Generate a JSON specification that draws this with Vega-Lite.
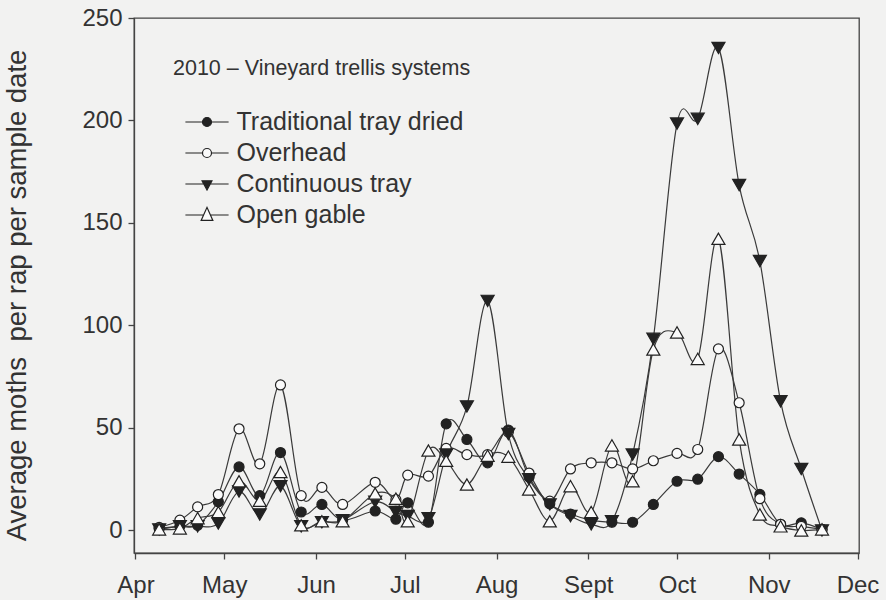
{
  "$schema": "https://vega.github.io/schema/vega-lite/v6.json",
  "width": 725,
  "height": 535,
  "autosize": {"type": "none"},
  "padding": {"left": 134, "top": 18, "right": 27, "bottom": 47},
  "background": "#f2f2f1",
  "config": {
    "font": "Liberation Sans",
    "view": {"stroke": "#444444", "strokeWidth": 1.3, "fill": "#f2f2f1"},
    "axis": {
      "domainColor": "#444444", "tickColor": "#444444", "labelColor": "#333333", "titleColor": "#333333",
      "grid": false, "labelFont": "Liberation Sans", "titleFont": "Liberation Sans",
      "labelFontSize": 24, "titleFontSize": 27.5, "titleFontWeight": "normal",
      "domainWidth": 1.3, "tickWidth": 1.3, "tickSize": 6
    }
  },
  "data": {"values": [
    {"date": "2010/04/09", "series": "Traditional tray dried", "value": 1},
    {"date": "2010/04/16", "series": "Traditional tray dried", "value": 2},
    {"date": "2010/04/22", "series": "Traditional tray dried", "value": 2.5},
    {"date": "2010/04/29", "series": "Traditional tray dried", "value": 14},
    {"date": "2010/05/06", "series": "Traditional tray dried", "value": 31},
    {"date": "2010/05/13", "series": "Traditional tray dried", "value": 17},
    {"date": "2010/05/20", "series": "Traditional tray dried", "value": 38},
    {"date": "2010/05/27", "series": "Traditional tray dried", "value": 9},
    {"date": "2010/06/03", "series": "Traditional tray dried", "value": 12.7},
    {"date": "2010/06/10", "series": "Traditional tray dried", "value": 5},
    {"date": "2010/06/21", "series": "Traditional tray dried", "value": 9.5},
    {"date": "2010/06/28", "series": "Traditional tray dried", "value": 5.5},
    {"date": "2010/07/02", "series": "Traditional tray dried", "value": 13.5},
    {"date": "2010/07/09", "series": "Traditional tray dried", "value": 4},
    {"date": "2010/07/15", "series": "Traditional tray dried", "value": 52},
    {"date": "2010/07/22", "series": "Traditional tray dried", "value": 44.4},
    {"date": "2010/07/29", "series": "Traditional tray dried", "value": 33},
    {"date": "2010/08/05", "series": "Traditional tray dried", "value": 49},
    {"date": "2010/08/12", "series": "Traditional tray dried", "value": 26},
    {"date": "2010/08/19", "series": "Traditional tray dried", "value": 13},
    {"date": "2010/08/26", "series": "Traditional tray dried", "value": 8},
    {"date": "2010/09/02", "series": "Traditional tray dried", "value": 5},
    {"date": "2010/09/09", "series": "Traditional tray dried", "value": 4},
    {"date": "2010/09/16", "series": "Traditional tray dried", "value": 4},
    {"date": "2010/09/23", "series": "Traditional tray dried", "value": 12.7},
    {"date": "2010/10/01", "series": "Traditional tray dried", "value": 24},
    {"date": "2010/10/08", "series": "Traditional tray dried", "value": 25},
    {"date": "2010/10/15", "series": "Traditional tray dried", "value": 36},
    {"date": "2010/10/22", "series": "Traditional tray dried", "value": 27.5},
    {"date": "2010/10/29", "series": "Traditional tray dried", "value": 17.6},
    {"date": "2010/11/05", "series": "Traditional tray dried", "value": 3},
    {"date": "2010/11/12", "series": "Traditional tray dried", "value": 3.7},
    {"date": "2010/11/19", "series": "Traditional tray dried", "value": 0.5},

    {"date": "2010/04/09", "series": "Overhead", "value": 1.5},
    {"date": "2010/04/16", "series": "Overhead", "value": 5},
    {"date": "2010/04/22", "series": "Overhead", "value": 11.5},
    {"date": "2010/04/29", "series": "Overhead", "value": 17.5},
    {"date": "2010/05/06", "series": "Overhead", "value": 49.6},
    {"date": "2010/05/13", "series": "Overhead", "value": 32.5},
    {"date": "2010/05/20", "series": "Overhead", "value": 71},
    {"date": "2010/05/27", "series": "Overhead", "value": 17},
    {"date": "2010/06/03", "series": "Overhead", "value": 21},
    {"date": "2010/06/10", "series": "Overhead", "value": 12.7},
    {"date": "2010/06/21", "series": "Overhead", "value": 23.5},
    {"date": "2010/06/28", "series": "Overhead", "value": 15},
    {"date": "2010/07/02", "series": "Overhead", "value": 27},
    {"date": "2010/07/09", "series": "Overhead", "value": 26.5},
    {"date": "2010/07/15", "series": "Overhead", "value": 40},
    {"date": "2010/07/22", "series": "Overhead", "value": 37},
    {"date": "2010/07/29", "series": "Overhead", "value": 37},
    {"date": "2010/08/05", "series": "Overhead", "value": 48},
    {"date": "2010/08/12", "series": "Overhead", "value": 28},
    {"date": "2010/08/19", "series": "Overhead", "value": 14.3},
    {"date": "2010/08/26", "series": "Overhead", "value": 30},
    {"date": "2010/09/02", "series": "Overhead", "value": 33},
    {"date": "2010/09/09", "series": "Overhead", "value": 33},
    {"date": "2010/09/16", "series": "Overhead", "value": 30},
    {"date": "2010/09/23", "series": "Overhead", "value": 34},
    {"date": "2010/10/01", "series": "Overhead", "value": 37.6},
    {"date": "2010/10/08", "series": "Overhead", "value": 39.5},
    {"date": "2010/10/15", "series": "Overhead", "value": 88.6},
    {"date": "2010/10/22", "series": "Overhead", "value": 62.3},
    {"date": "2010/10/29", "series": "Overhead", "value": 15.5},
    {"date": "2010/11/05", "series": "Overhead", "value": 3},
    {"date": "2010/11/12", "series": "Overhead", "value": 2},
    {"date": "2010/11/19", "series": "Overhead", "value": 0.5},

    {"date": "2010/04/09", "series": "Continuous tray", "value": 0.5},
    {"date": "2010/04/16", "series": "Continuous tray", "value": 2},
    {"date": "2010/04/22", "series": "Continuous tray", "value": 2},
    {"date": "2010/04/29", "series": "Continuous tray", "value": 3.4},
    {"date": "2010/05/06", "series": "Continuous tray", "value": 19},
    {"date": "2010/05/13", "series": "Continuous tray", "value": 7.8},
    {"date": "2010/05/20", "series": "Continuous tray", "value": 21.6},
    {"date": "2010/05/27", "series": "Continuous tray", "value": 2},
    {"date": "2010/06/03", "series": "Continuous tray", "value": 4},
    {"date": "2010/06/10", "series": "Continuous tray", "value": 5},
    {"date": "2010/06/21", "series": "Continuous tray", "value": 14},
    {"date": "2010/06/28", "series": "Continuous tray", "value": 9},
    {"date": "2010/07/02", "series": "Continuous tray", "value": 7},
    {"date": "2010/07/09", "series": "Continuous tray", "value": 6},
    {"date": "2010/07/15", "series": "Continuous tray", "value": 37},
    {"date": "2010/07/22", "series": "Continuous tray", "value": 60.5},
    {"date": "2010/07/29", "series": "Continuous tray", "value": 112},
    {"date": "2010/08/05", "series": "Continuous tray", "value": 47},
    {"date": "2010/08/12", "series": "Continuous tray", "value": 25},
    {"date": "2010/08/19", "series": "Continuous tray", "value": 12.7},
    {"date": "2010/08/26", "series": "Continuous tray", "value": 7},
    {"date": "2010/09/02", "series": "Continuous tray", "value": 3},
    {"date": "2010/09/09", "series": "Continuous tray", "value": 4.5},
    {"date": "2010/09/16", "series": "Continuous tray", "value": 37},
    {"date": "2010/09/23", "series": "Continuous tray", "value": 93.5},
    {"date": "2010/10/01", "series": "Continuous tray", "value": 198.5},
    {"date": "2010/10/08", "series": "Continuous tray", "value": 200.8},
    {"date": "2010/10/15", "series": "Continuous tray", "value": 235.4},
    {"date": "2010/10/22", "series": "Continuous tray", "value": 168.5},
    {"date": "2010/10/29", "series": "Continuous tray", "value": 131.4},
    {"date": "2010/11/05", "series": "Continuous tray", "value": 63},
    {"date": "2010/11/12", "series": "Continuous tray", "value": 30},
    {"date": "2010/11/19", "series": "Continuous tray", "value": 0},

    {"date": "2010/04/09", "series": "Open gable", "value": 0.5},
    {"date": "2010/04/16", "series": "Open gable", "value": 1},
    {"date": "2010/04/22", "series": "Open gable", "value": 6},
    {"date": "2010/04/29", "series": "Open gable", "value": 9},
    {"date": "2010/05/06", "series": "Open gable", "value": 24},
    {"date": "2010/05/13", "series": "Open gable", "value": 14.5},
    {"date": "2010/05/20", "series": "Open gable", "value": 28.5},
    {"date": "2010/05/27", "series": "Open gable", "value": 2.5},
    {"date": "2010/06/03", "series": "Open gable", "value": 4.5},
    {"date": "2010/06/10", "series": "Open gable", "value": 4.5},
    {"date": "2010/06/21", "series": "Open gable", "value": 18},
    {"date": "2010/06/28", "series": "Open gable", "value": 15.5},
    {"date": "2010/07/02", "series": "Open gable", "value": 4.5},
    {"date": "2010/07/09", "series": "Open gable", "value": 39},
    {"date": "2010/07/15", "series": "Open gable", "value": 34},
    {"date": "2010/07/22", "series": "Open gable", "value": 22.4},
    {"date": "2010/07/29", "series": "Open gable", "value": 36.5},
    {"date": "2010/08/05", "series": "Open gable", "value": 36},
    {"date": "2010/08/12", "series": "Open gable", "value": 20},
    {"date": "2010/08/19", "series": "Open gable", "value": 4.5},
    {"date": "2010/08/26", "series": "Open gable", "value": 21.6},
    {"date": "2010/09/02", "series": "Open gable", "value": 9},
    {"date": "2010/09/09", "series": "Open gable", "value": 41.5},
    {"date": "2010/09/16", "series": "Open gable", "value": 24},
    {"date": "2010/09/23", "series": "Open gable", "value": 88.3},
    {"date": "2010/10/01", "series": "Open gable", "value": 96.6},
    {"date": "2010/10/08", "series": "Open gable", "value": 83.7},
    {"date": "2010/10/15", "series": "Open gable", "value": 142.3},
    {"date": "2010/10/22", "series": "Open gable", "value": 44.4},
    {"date": "2010/10/29", "series": "Open gable", "value": 7.8},
    {"date": "2010/11/05", "series": "Open gable", "value": 2},
    {"date": "2010/11/12", "series": "Open gable", "value": 0},
    {"date": "2010/11/19", "series": "Open gable", "value": 0.5}
  ]},
  "encoding": {
    "x": {
      "field": "date", "type": "temporal",
      "scale": {"domain": [{"year": 2010, "month": 3, "date": 31, "hours": 12}, {"year": 2010, "month": 12, "date": 1, "hours": 12}]},
      "axis": {
        "title": null,
        "values": [
          {"year": 2010, "month": 4, "date": 1}, {"year": 2010, "month": 5, "date": 1}, {"year": 2010, "month": 6, "date": 1},
          {"year": 2010, "month": 7, "date": 1}, {"year": 2010, "month": 8, "date": 1}, {"year": 2010, "month": 9, "date": 1},
          {"year": 2010, "month": 10, "date": 1}, {"year": 2010, "month": 11, "date": 1}, {"year": 2010, "month": 12, "date": 1}
        ],
        "labelExpr": "['Jan','Feb','Mar','Apr','May','Jun','Jul','Aug','Sept','Oct','Nov','Dec'][month(datum.value)]",
        "labelPadding": 14,
        "labelFlush": false,
        "labelOverlap": false
      }
    },
    "y": {
      "field": "value", "type": "quantitative",
      "scale": {"domain": [-11, 250], "nice": false, "zero": false},
      "axis": {
        "title": "Average moths\u00a0 per rap per sample date",
        "values": [0, 50, 100, 150, 200, 250],
        "labelPadding": 6,
        "titlePadding": 50,
        "titleY": 277
      }
    }
  },
  "layer": [
    {
      "mark": {"type": "line", "interpolate": "cardinal", "color": "#3a3a3a", "strokeWidth": 1.2},
      "encoding": {"detail": {"field": "series"}}
    },
    {
      "mark": {"type": "point", "opacity": 1, "filled": false, "strokeWidth": 1.2},
      "encoding": {
        "color": {
          "field": "series",
          "scale": {"domain": ["Traditional tray dried", "Overhead", "Continuous tray", "Open gable"], "range": ["#222222", "#222222", "#222222", "#222222"]},
          "legend": {
            "orient": "none", "legendX": 39, "legendY": 40,
            "title": "2010 – Vineyard trellis systems",
            "titleFontSize": 21.5, "titleFontWeight": "normal", "titleColor": "#333333", "titleFont": "Liberation Sans",
            "titlePadding": 30, "titleLimit": 500,
            "labelFontSize": 25, "labelColor": "#333333", "labelFont": "Liberation Sans", "labelLimit": 500,
            "symbolSize": 81, "symbolOffset": 21.5, "labelOffset": 17, "rowPadding": 5, "padding": 0,
            "symbolStrokeWidth": 1.2,
            "encoding": {
              "symbols": {
                "shape": {"value": {"expr": "datum.value === 'Traditional tray dried' ? 'M-4.8,0H4.8M1,0A1,1,0,1,1,-1,0A1,1,0,1,1,1,0Z' : datum.value === 'Overhead' ? 'M-4.8,0H-1M1,0H4.8M1,0A1,1,0,1,1,-1,0A1,1,0,1,1,1,0Z' : datum.value === 'Continuous tray' ? 'M-4.8,0H4.8M-1.1,-0.7H1.1L0,1.35Z' : 'M-4.8,0H-0.76M0.76,0H4.8M-1.3,1.2H1.3L0,-1.7Z'"}},
                "fill": {"value": {"expr": "datum.value === 'Overhead' || datum.value === 'Open gable' ? '#fafafa' : '#222222'"}},
                "strokeWidth": {"value": 1.2},
                "opacity": {"value": 1}
              }
            }
          }
        },
        "shape": {
          "condition": [
            {"test": "datum.series === 'Continuous tray'", "value": "triangle-down"},
            {"test": "datum.series === 'Open gable'", "value": "triangle-up"}
          ],
          "value": "circle"
        },
        "fill": {
          "condition": {"test": "datum.series === 'Overhead' || datum.series === 'Open gable'", "value": "#fafafa"},
          "value": "#222222"
        },
        "size": {
          "condition": {"test": "datum.series === 'Continuous tray' || datum.series === 'Open gable'", "value": 170},
          "value": 100
        }
      }
    }
  ]
}
